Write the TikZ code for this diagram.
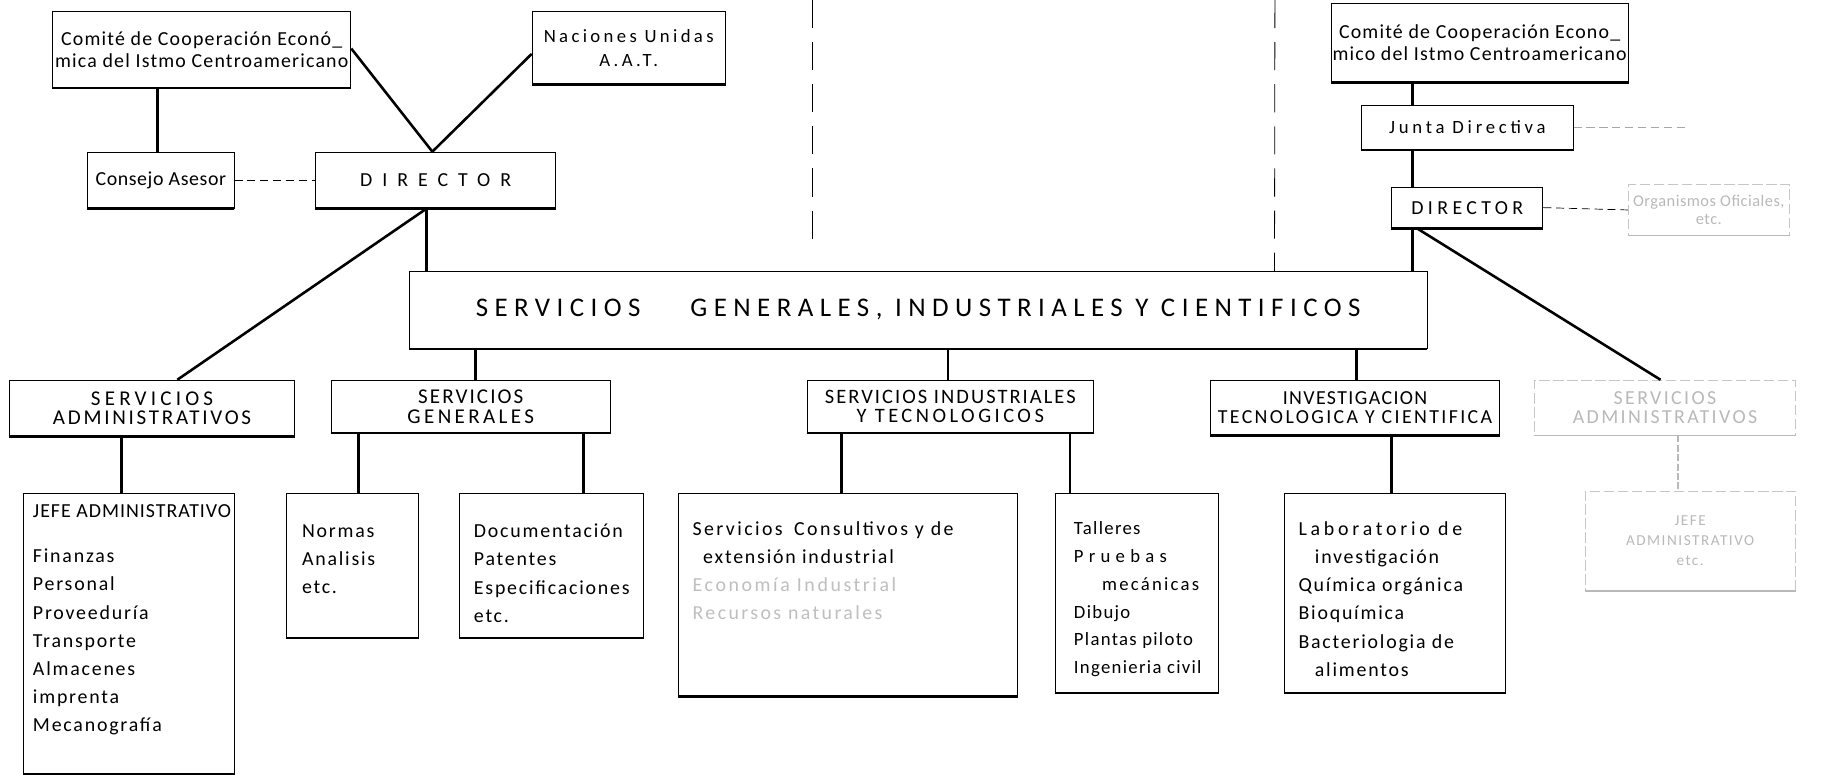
\documentclass[tikz,border=0pt]{standalone}
\usepackage{fontspec}
\setmainfont{Carlito}
\newcommand\lsp[1]{\addfontfeature{LetterSpace=#1}}
\newcommand\boxnode[7]{%
  \node[#6, minimum width={(#4-#2)*1pt}, minimum height={(#5-#3)*1pt}] (#1) at ({(#2+#4)/2},{(#3+#5)/2}) {#7};}
\begin{document}
\begin{tikzpicture}[x=1pt,y=-1pt,
  box/.style={draw, line width=0.7pt, inner sep=1pt, align=center},
  fbox/.style={draw=gray!45, line width=0.6pt, dash pattern=on 9pt off 3pt, inner sep=1pt, align=center, text=gray!55},
  conn/.style={line width=2.2pt},
  fconn/.style={line width=1.2pt, draw=gray!55, dash pattern=on 6pt off 2pt},
  dconn/.style={line width=0.7pt, dash pattern=on 7pt off 4pt},
  sep/.style={line width=0.9pt, dash pattern=on 24pt off 12pt},
  small/.style={font=\fontsize{17}{19}\selectfont\lsp{6}, inner sep=0.5pt},
  lab2/.style={font=\fontsize{18}{17}\selectfont},
  lst/.style={inner sep=0pt, align=left, anchor=north west, font=\fontsize{17}{24}\selectfont\lsp{9}},
  ]
\fill[white] (0,0) rectangle (1568,662);
\useasboundingbox (0,0) rectangle (1568,662);

% separators
\coordinate (s1t) at (695,0);
\coordinate (s1b) at (695,210);
\coordinate (s2t) at (1090,0);

% ---- top left
\boxnode{comL}{45}{10}{300}{75}{box,small}{Comité de Cooperación Econó\_\\mica del Istmo Centroamericano}
\boxnode{nac}{455}{10}{620}{72}{box,font=\fontsize{16}{20}\selectfont\lsp{18}}{Naciones Unidas\\A.A.T.}
\boxnode{cons}{75}{130}{200}{178}{box,font=\fontsize{17}{19}\selectfont\lsp{3}}{Consejo Asesor}
\boxnode{dirL}{270}{130}{475}{178}{box,font=\fontsize{17}{19}\selectfont\lsp{50}}{DIRECTOR}

% ---- big box
\boxnode{big}{350}{232}{1220}{298}{box,font=\fontsize{23}{24}\selectfont\lsp{24}}{SERVICIOS\hspace{32pt} GENERALES, INDUSTRIALES Y CIENTIFICOS}

% ---- second row
\boxnode{adm}{8}{325}{252}{373}{box,lab2}{{\lsp{20}SERVICIOS}\\{\lsp{13}ADMINISTRATIVOS}}
\boxnode{gen}{283}{325}{522}{370}{box,lab2}{{\lsp{10}SERVICIOS}\\{\lsp{16}GENERALES}}
\boxnode{ind}{690}{325}{935}{370}{box,font=\fontsize{17.5}{17}\selectfont}{{\lsp{10}SERVICIOS INDUSTRIALES}\\{\lsp{17}Y TECNOLOGICOS}}
\boxnode{inv}{1035}{325}{1282}{372}{box,font=\fontsize{17}{17}\selectfont}{{\lsp{7}INVESTIGACION}\\{\lsp{12}TECNOLOGICA Y CIENTIFICA}}
\boxnode{admR}{1312}{325}{1535}{372}{fbox,font=\fontsize{17}{17}\selectfont\lsp{12}}{SERVICIOS\\ADMINISTRATIVOS}

% ---- third row
\boxnode{jefe}{20}{422}{200}{662}{box}{}
\boxnode{normas}{245}{422}{358}{545}{box}{}
\boxnode{doc}{393}{422}{550}{545}{box}{}
\boxnode{scons}{580}{422}{870}{595}{box}{}
\boxnode{tall}{902}{422}{1042}{592}{box}{}
\boxnode{lab}{1098}{422}{1287}{592}{box}{}
\boxnode{jefeR}{1355}{420}{1535}{505}{fbox,font=\fontsize{13}{17}\selectfont\lsp{10}}{JEFE\\ADMINISTRATIVO\\etc.}

% list texts
\node[lst] (jefeT) at (28,431) {{\lsp{5}JEFE ADMINISTRATIVO}\\[15pt]Finanzas\\Personal\\Proveeduría\\Transporte\\Almacenes\\imprenta\\Mecanografía};
\node[lst] (normasT) at (258,448) {Normas\\Analisis\\etc.};
\node[lst] (docT) at (405,448) {Documentación\\Patentes\\Especificaciones\\etc.};
\node[lst] (sconsT) at (592,446) {{\lsp{12}Servicios\hspace{4pt} Consultivos y de}\\\hspace*{9pt}extensión industrial\\{\color{gray!50}\lsp{13}Economía Industrial}\\{\color{gray!50}\lsp{12}Recursos naturales}};
\node[lst, font=\fontsize{16}{23.7}\selectfont\lsp{7}] (tallT) at (918,446) {Talleres\\{\lsp{28}Pruebas}\\\hspace*{24pt}{\lsp{12}mecánicas}\\Dibujo\\Plantas piloto\\Ingenieria civil};
\node[lst] (labT) at (1110,446) {{\lsp{19}Laboratorio de}\\\hspace*{14pt}investigación\\Química orgánica\\Bioquímica\\Bacteriologia de\\\hspace*{14pt}alimentos};

% ---- top right
\boxnode{comR}{1138}{3}{1392}{70}{box,small}{Comité de Cooperación Econo\_\\mico del Istmo Centroamericano}
\boxnode{junta}{1164}{90}{1345}{128}{box,font=\fontsize{16}{19}\selectfont\lsp{20}}{Junta Directiva}
\boxnode{dirR}{1190}{160}{1319}{195}{box,font=\fontsize{17}{19}\selectfont\lsp{22}}{DIRECTOR}
\boxnode{org}{1392}{158}{1530}{201}{fbox,font=\fontsize{14}{16}\selectfont\lsp{3}}{Organismos Oficiales,\\etc.}
\coordinate (juntaEnd) at (1442,109);

% thick bottom edges
\foreach \n in {comL,nac,cons,dirL,big,adm,gen,ind,inv,jefe,normas,doc,scons,tall,lab,comR,junta,dirR}
  \draw[line width=2.2pt] (\n.south west) -- (\n.south east);
\foreach \n in {admR,jefeR,org}
  \draw[line width=1.6pt, gray!55] (\n.south west) -- (\n.south east);

% separators
\draw[sep] (s1t) -- (s1b);
\draw[sep, line width=0.7pt] (s2t) -- ([xshift=740pt]big.north west);

% connectors left
\draw[conn] ([xshift=90pt]comL.south west) -- ([xshift=60pt]cons.north west);
\draw[conn] ([yshift=1pt]comL.east) -- ([xshift=100pt]dirL.north west);
\draw[conn] ([yshift=-5pt]nac.west) -- ([xshift=100pt]dirL.north west);
\draw[dconn] (cons.east) -- (dirL.west);
\draw[conn] ([xshift=95pt]dirL.south west) -- ([xshift=15pt]big.north west);
\draw[conn] ([xshift=95pt]dirL.south west) -- ([xshift=144pt]adm.north west);
\draw[conn] ([xshift=57pt]big.south west) -- ([xshift=124pt]gen.north west);
\draw[conn] ([xshift=461pt]big.south west) -- ([xshift=121pt]ind.north west);
\draw[conn] ([xshift=810pt]big.south west) -- ([xshift=125pt]inv.north west);
\draw[conn] ([xshift=96pt]adm.south west) -- ([xshift=84pt]jefe.north west);
\draw[conn] ([xshift=24pt]gen.south west) -- ([xshift=62pt]normas.north west);
\draw[conn] ([xshift=216pt]gen.south west) -- ([xshift=106pt]doc.north west);
\draw[conn] ([xshift=30pt]ind.south west) -- ([xshift=140pt]scons.north west);
\draw[conn] ([xshift=225pt]ind.south west) -- ([xshift=13pt]tall.north west);
\draw[conn] ([xshift=155pt]inv.south west) -- ([xshift=92pt]lab.north west);

% connectors right
\draw[conn] ([xshift=44pt]junta.north west |- comR.south) -- ([xshift=44pt]junta.north west);
\draw[conn] ([xshift=44pt]junta.south west) -- ([xshift=18pt]dirR.north west);
\draw[conn] ([xshift=18pt]dirR.south west) -- ([xshift=858pt]big.north west);
\draw[conn] ([xshift=22pt]dirR.south west) -- ([xshift=108pt]admR.north west);
\draw[fconn] ([xshift=123pt]admR.south west) -- ([xshift=80pt]jefeR.north west);
\draw[dconn, line width=0.5pt, gray!70] (junta.east) -- (juntaEnd);
\draw[dconn, line width=0.6pt] (dirR.east) -- (org.west);
\end{tikzpicture}
\end{document}
